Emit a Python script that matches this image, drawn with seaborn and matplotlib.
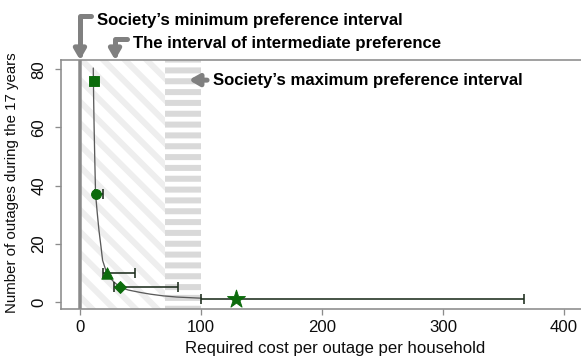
import matplotlib
matplotlib.use("Agg")
import matplotlib.pyplot as plt
import seaborn as sns
import pandas as pd

# fitted curve
curve_x = [11.0, 11.3, 11.7, 12.3, 12.9, 14.3, 15.7, 17.4, 18.7, 22.0, 25.0, 28.0,
           33.2, 40.0, 49.6, 58.0, 68.9, 80.0, 100.4]
curve_y = [80.4, 70.0, 60.0, 48.0, 37.1, 30.6, 24.7, 19.0, 14.4, 10.2, 8.3, 7.0,
           5.15, 4.2, 3.4, 2.8, 2.2, 1.8, 1.4]

# observed points with cost intervals
point_kind = ["square", "circle", "triangle", "diamond", "star"]
point_cost = [11.5, 12.9, 22.0, 33.2, 128.7]
point_outages = [76.0, 37.1, 10.2, 5.15, 1.0]
cost_low = [11.0, 12.3, 19.2, 28.3, 100.4]
cost_high = [12.6, 19.2, 45.4, 81.1, 367.3]

x_ticks = [0, 100, 200, 300, 400]
y_ticks = [0, 20, 40, 60, 80]

intermediate_band = (0, 70)
maximum_band = (70, 100)

DPI = 130
PX = 72 / DPI  # points per pixel
INK = "#0d0d0d"

sns.set_style("white")
plt.rcParams["font.family"] = ["Liberation Sans", "DejaVu Sans"]
plt.rcParams["hatch.linewidth"] = 6 * PX

fig = plt.figure(figsize=(581 / DPI, 361 / DPI), dpi=DPI)
ax = fig.add_axes([0.1043, 0.1452, 0.8998, 0.6886])
ax.set_xlim(-16, 416)
ax.set_ylim(-2.16, 83.16)

# shaded preference intervals
ax.axvspan(*intermediate_band, facecolor="white", edgecolor="#eeeeee",
           hatch="\\\\", linewidth=0, zorder=0)
ax.axvspan(*maximum_band, facecolor="white", edgecolor="#d9d9d9",
           hatch="--", linewidth=0, zorder=0)

ax.axvline(0, color="#8a8a8a", lw=3.5 * PX, zorder=1)

curve = pd.DataFrame({"cost": curve_x, "outages": curve_y})
sns.lineplot(data=curve, x="cost", y="outages", ax=ax, color="#5a5a5a",
             lw=1.3 * PX, estimator=None, sort=False, zorder=2)

pts = pd.DataFrame({"kind": point_kind, "cost": point_cost, "outages": point_outages,
                    "lo": cost_low, "hi": cost_high})
ax.errorbar(pts["cost"], pts["outages"],
            xerr=[pts["cost"] - pts["lo"], pts["hi"] - pts["cost"]],
            fmt="none", ecolor="#1e2e1e", elinewidth=1.6 * PX,
            capsize=5 * PX, capthick=1.6 * PX, zorder=3)

marker_map = {"square": "s", "circle": "o", "triangle": "^", "diamond": "D", "star": "*"}
size_map = {"square": 30, "circle": 30, "triangle": 40, "diamond": 22, "star": 110}
for kind, grp in pts.groupby("kind"):
    sns.scatterplot(data=grp, x="cost", y="outages", ax=ax, marker=marker_map[kind],
                    s=size_map[kind], color="#0b6b0b", edgecolor="#0b6b0b",
                    linewidth=0.5, zorder=4, legend=False)

# axes styling
for side in ["left", "bottom", "top"]:
    ax.spines[side].set_color("#8c8c8c")
    ax.spines[side].set_linewidth(1.6 * PX)
ax.spines["right"].set_visible(False)
ax.set_xticks(x_ticks)
ax.set_yticks(y_ticks)
ax.tick_params(axis="both", which="major", direction="out", length=6 * PX,
               width=1.3 * PX, color="#8c8c8c", labelsize=9.3, labelcolor=INK,
               left=True, bottom=True)
ax.tick_params(axis="x", pad=5.5 * PX)
ax.tick_params(axis="y", pad=8 * PX)
ax.set_yticklabels([str(v) for v in y_ticks], rotation=90, ha="right", va="center",
                   rotation_mode="default")

ax.set_xlabel("Required cost per outage per household", fontsize=9.3, color=INK)
ax.set_ylabel("Number of outages during the 17 years", fontsize=8.3, color=INK)
ax.xaxis.set_label_coords(0.526, -0.130)
ax.yaxis.set_label_coords(-0.080, 0.505)

# annotations with elbow arrows
arrow_kw = dict(arrowstyle="-|>,head_length=4.5,head_width=2.6", mutation_scale=1,
                color="#808080", lw=5 * PX, shrinkA=1, shrinkB=0)
elbow = "angle,angleA=180,angleB=90,rad=0"
ax.annotate("Society’s minimum preference interval", xy=(0, 1.0),
            xycoords=("data", "axes fraction"), xytext=(97, 336),
            textcoords="figure pixels", fontsize=9.3, fontweight="bold", color="black",
            va="baseline", ha="left", annotation_clip=False,
            arrowprops=dict(connectionstyle=elbow, relpos=(0, 0.8), **arrow_kw))
ax.annotate("The interval of intermediate preference", xy=(29, 1.0),
            xycoords=("data", "axes fraction"), xytext=(133, 313.3),
            textcoords="figure pixels", fontsize=9.3, fontweight="bold", color="black",
            va="baseline", ha="left", annotation_clip=False,
            arrowprops=dict(relpos=(0, 0.76), connectionstyle=elbow, **arrow_kw))
ax.annotate("Society’s maximum preference interval", xy=(90, 76.3),
            xycoords="data", xytext=(213, 276),
            textcoords="figure pixels", fontsize=9.3, fontweight="bold", color="black",
            va="baseline", ha="left", annotation_clip=False,
            arrowprops=dict(relpos=(0, 0.52), **arrow_kw))

fig.savefig("out.png", dpi=DPI)
